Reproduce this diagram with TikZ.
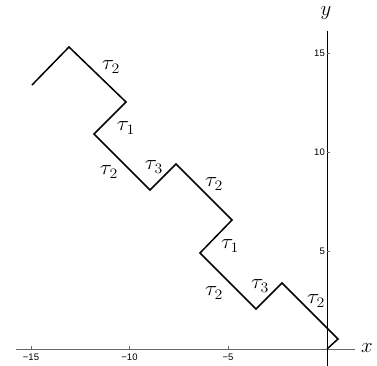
\documentclass[tikz,border=0pt]{standalone}
\usepackage{fontspec}
\setsansfont{Liberation Sans}
\begin{document}
\begin{tikzpicture}[x=1pt,y=-1pt,
  axis/.style={line width=0.8pt,draw=black!60},
  yaxis/.style={line width=0.8pt,draw=black},
  tick/.style={line width=0.5pt,draw=black!60},
  ticklab/.style={font=\sffamily\fontsize{9.5}{10}\selectfont,inner sep=0pt},
  path/.style={line width=1.5pt,line join=miter},
  lab/.style={font=\fontsize{21}{22}\selectfont,inner sep=0pt,xscale=1.1},
  axlab/.style={font=\fontsize{22}{23}\selectfont,inner sep=0pt}]
\useasboundingbox (0,0) rectangle (377,366);
\fill[white] (0,0) rectangle (377,366);
% axes
\coordinate (xl) at (16,349);
\coordinate (xr) at (355,349);
\coordinate (yt) at (327,31);
\coordinate (yb) at (327,366);
\draw[axis] (xl) -- (xr);
\draw[yaxis] (yt) -- (yb);
% x ticks
\foreach \v/\p in {15/31,10/129.5,5/228} {
  \draw[tick] (\p,349) -- (\p,346);
  \node[ticklab] (xt\v) at (\p,357) {−\v};
}
% y ticks
\foreach \v/\p in {15/53,10/152,5/251} {
  \draw[tick] (327,\p) -- (330,\p);
  \node[ticklab,anchor=east] (yt\v) at (325,\p) {\v};
}
\node[axlab] (xlab) at (367,348) {$x$};
\node[axlab] (ylab) at (326,13) {$y$};
% path
\coordinate (p0) at (32,85);
\coordinate (p1) at (69,47);
\coordinate (p2) at (126,102);
\coordinate (p3) at (94,134);
\coordinate (p4) at (150,190);
\coordinate (p5) at (176,164);
\coordinate (p6) at (232,220);
\coordinate (p7) at (200,253);
\coordinate (p8) at (256,309);
\coordinate (p9) at (282,283);
\coordinate (p10) at (338,339);
\coordinate (p11) at (327,349);
\draw[path] (p0) -- (p1) -- (p2) -- (p3) -- (p4) -- (p5) -- (p6) -- (p7) -- (p8) -- (p9) -- (p10) -- (p11);
% labels
\node[lab] (l1) at (111,67) {$\tau_2$};
\node[lab] (l2) at (126,128) {$\tau_1$};
\node[lab] (l3) at (109,172) {$\tau_2$};
\node[lab] (l4) at (154,167) {$\tau_3$};
\node[lab] (l5) at (214,184) {$\tau_2$};
\node[lab] (l6) at (230,246) {$\tau_1$};
\node[lab] (l7) at (214,293) {$\tau_2$};
\node[lab] (l8) at (260,286) {$\tau_3$};
\node[lab] (l9) at (316,301) {$\tau_2$};
\end{tikzpicture}
\end{document}
